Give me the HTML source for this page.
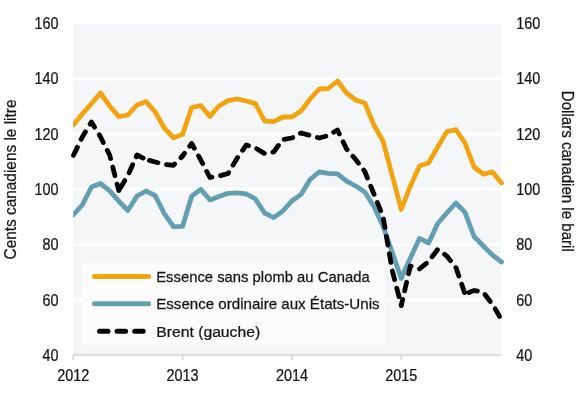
<!DOCTYPE html>
<html><head><meta charset="utf-8"><style>
html,body{margin:0;padding:0;background:#fff;width:580px;height:393px;overflow:hidden}
svg{display:block;will-change:transform}
text{font-family:"Liberation Sans",sans-serif;font-size:16px;fill:#151515;stroke:#151515;stroke-width:0.25px}
</style></head><body>
<svg width="580" height="393" viewBox="0 0 580 393">
<defs><clipPath id="cl"><rect x="73.2" y="0" width="500" height="393"/></clipPath></defs>
<rect x="73" y="24" width="428" height="331" fill="#f5f6f8"/>
<line x1="73" x2="501" y1="299.7" y2="299.7" stroke="#ffffff" stroke-width="3"/><line x1="73" x2="501" y1="244.5" y2="244.5" stroke="#ffffff" stroke-width="3"/><line x1="73" x2="501" y1="189.2" y2="189.2" stroke="#ffffff" stroke-width="3"/><line x1="73" x2="501" y1="134.0" y2="134.0" stroke="#ffffff" stroke-width="3"/><line x1="73" x2="501" y1="78.7" y2="78.7" stroke="#ffffff" stroke-width="3"/>
<line x1="73" x2="501" y1="355" y2="355" stroke="#d4d4d4" stroke-width="1.5"/>
<line x1="73.2" x2="73.2" y1="355" y2="360" stroke="#d4d4d4" stroke-width="1.5"/><text transform="translate(73.20,380.50) scale(0.9,1)" text-anchor="middle" style="font-size:16px">2012</text><line x1="182.6" x2="182.6" y1="355" y2="360" stroke="#d4d4d4" stroke-width="1.5"/><text transform="translate(182.55,380.50) scale(0.9,1)" text-anchor="middle" style="font-size:16px">2013</text><line x1="291.9" x2="291.9" y1="355" y2="360" stroke="#d4d4d4" stroke-width="1.5"/><text transform="translate(291.90,380.50) scale(0.9,1)" text-anchor="middle" style="font-size:16px">2014</text><line x1="401.2" x2="401.2" y1="355" y2="360" stroke="#d4d4d4" stroke-width="1.5"/><text transform="translate(401.25,380.50) scale(0.9,1)" text-anchor="middle" style="font-size:16px">2015</text>
<text transform="translate(58.60,360.90) scale(0.9,1)" text-anchor="end" style="font-size:16px">40</text><text transform="translate(58.60,305.59) scale(0.9,1)" text-anchor="end" style="font-size:16px">60</text><text transform="translate(58.60,250.28) scale(0.9,1)" text-anchor="end" style="font-size:16px">80</text><text transform="translate(58.60,194.97) scale(0.9,1)" text-anchor="end" style="font-size:16px">100</text><text transform="translate(58.60,139.66) scale(0.9,1)" text-anchor="end" style="font-size:16px">120</text><text transform="translate(58.60,84.35) scale(0.9,1)" text-anchor="end" style="font-size:16px">140</text><text transform="translate(58.60,29.04) scale(0.9,1)" text-anchor="end" style="font-size:16px">160</text>
<text transform="translate(516.30,360.90) scale(0.9,1)" text-anchor="start" style="font-size:16px">40</text><text transform="translate(516.30,305.59) scale(0.9,1)" text-anchor="start" style="font-size:16px">60</text><text transform="translate(516.30,250.28) scale(0.9,1)" text-anchor="start" style="font-size:16px">80</text><text transform="translate(516.30,194.97) scale(0.9,1)" text-anchor="start" style="font-size:16px">100</text><text transform="translate(516.30,139.66) scale(0.9,1)" text-anchor="start" style="font-size:16px">120</text><text transform="translate(516.30,84.35) scale(0.9,1)" text-anchor="start" style="font-size:16px">140</text><text transform="translate(516.30,29.04) scale(0.9,1)" text-anchor="start" style="font-size:16px">160</text>
<text transform="translate(16.30,179.50) rotate(-90) scale(0.962,1)" text-anchor="middle" style="font-size:16px">Cents canadiens le litre</text>
<text transform="translate(561.50,171.30) rotate(90) scale(0.943,1)" text-anchor="middle" style="font-size:16px">Dollars canadien le baril</text>
<polyline points="73.2,125.0 82.3,114.0 91.4,103.6 100.5,93.0 109.7,106.0 118.8,116.6 127.9,115.0 137.0,105.0 146.1,101.6 155.2,112.0 164.3,128.0 173.4,137.7 182.6,134.3 191.7,107.5 200.8,105.6 209.9,116.4 219.0,106.0 228.1,100.6 237.2,99.0 246.3,101.0 255.4,103.6 264.6,121.0 273.7,121.6 282.8,117.0 291.9,117.0 301.0,111.0 310.1,99.0 319.2,89.0 328.3,88.5 337.5,81.0 346.6,93.0 355.7,100.0 364.8,103.0 373.9,125.0 383.0,141.0 392.1,175.0 401.2,209.5 410.4,186.0 419.5,166.0 428.6,162.7 437.7,147.0 446.8,131.6 455.9,129.6 465.0,143.0 474.1,167.0 483.3,174.2 492.4,172.0 501.5,183.0" fill="none" stroke="#f2a312" stroke-width="4.8" stroke-linejoin="round" stroke-linecap="round" clip-path="url(#cl)"/>
<polyline points="73.2,215.0 82.3,205.0 91.4,187.0 100.5,183.5 109.7,190.8 118.8,201.2 127.9,210.5 137.0,196.0 146.1,191.0 155.2,195.6 164.3,213.6 173.4,226.6 182.6,226.3 191.7,196.2 200.8,189.3 209.9,199.9 219.0,196.5 228.1,193.3 237.2,192.9 246.3,194.0 255.4,199.0 264.6,213.0 273.7,217.6 282.8,211.0 291.9,201.0 301.0,194.4 310.1,179.5 319.2,172.0 328.3,173.3 337.5,173.8 346.6,181.2 355.7,186.0 364.8,192.0 373.9,206.5 383.0,226.0 392.1,252.0 401.2,278.5 410.4,258.0 419.5,238.4 428.6,243.0 437.7,223.5 446.8,213.0 455.9,203.0 465.0,212.4 474.1,236.5 483.3,246.0 492.4,255.0 501.5,262.0" fill="none" stroke="#629fb3" stroke-width="4.8" stroke-linejoin="round" stroke-linecap="round" clip-path="url(#cl)"/>
<polyline points="73.20,155.90 82.31,137.00 91.42,122.00 100.54,137.00 109.65,155.00 118.76,190.50" fill="none" stroke="#000" stroke-width="4.8" stroke-linejoin="round" stroke-linecap="round" stroke-dasharray="8.8 8.8" stroke-dashoffset="16.90"/><polyline points="118.76,190.50 127.88,175.50 136.99,155.00 146.10,159.50" fill="none" stroke="#000" stroke-width="4.8" stroke-linejoin="round" stroke-linecap="round" stroke-dasharray="8.8 8.8" stroke-dashoffset="14.71"/><polyline points="146.10,159.50 155.21,162.00 164.32,164.50 173.44,165.30 182.55,156.00" fill="none" stroke="#000" stroke-width="4.8" stroke-linejoin="round" stroke-linecap="round" stroke-dasharray="8.8 8.8" stroke-dashoffset="14.16"/><polyline points="182.55,156.00 191.66,143.50 200.77,160.00 209.89,177.50 219.00,176.00 228.11,173.50 237.22,158.00 246.34,145.00 255.45,148.00 264.56,153.50 273.67,152.00 282.79,139.50 291.90,138.00 301.01,133.00 310.12,135.50 319.24,138.00 328.35,135.50 337.46,130.00 346.57,149.00 355.69,159.50 364.80,171.50 373.91,194.00 383.02,216.50 392.14,270.00 401.25,305.50" fill="none" stroke="#000" stroke-width="4.8" stroke-linejoin="round" stroke-linecap="round" stroke-dasharray="8.8 8.8" stroke-dashoffset="5.52"/><polyline points="401.25,305.50 410.36,266.00 419.47,269.00 428.59,261.50 437.70,249.50 446.81,256.00 455.92,267.50 465.04,294.00" fill="none" stroke="#000" stroke-width="4.8" stroke-linejoin="round" stroke-linecap="round" stroke-dasharray="8.8 8.8" stroke-dashoffset="2.59"/><polyline points="465.04,294.00 474.15,290.50 483.26,292.30 492.37,304.30 501.49,319.50" fill="none" stroke="#000" stroke-width="4.8" stroke-linejoin="round" stroke-linecap="round" stroke-dasharray="8.8 8.8" stroke-dashoffset="13.38"/>
<rect x="82" y="263" width="303" height="82" fill="#fcfcfc"/>
<line x1="94.5" x2="148.5" y1="276.4" y2="276.4" stroke="#f2a312" stroke-width="5" stroke-linecap="round"/>
<line x1="94.5" x2="148.5" y1="303.8" y2="303.8" stroke="#629fb3" stroke-width="5" stroke-linecap="round"/>
<line x1="99.5" x2="144" y1="331.2" y2="331.2" stroke="#000000" stroke-width="5" stroke-linecap="round" stroke-dasharray="8.5 9.1"/>
<text transform="translate(156.20,281.80) scale(0.989,1)" text-anchor="start" style="font-size:15px">Essence sans plomb au Canada</text>
<text transform="translate(156.20,309.30) scale(1.008,1)" text-anchor="start" style="font-size:15px">Essence ordinaire aux États-Unis</text>
<text transform="translate(156.20,336.80) scale(1.049,1)" text-anchor="start" style="font-size:15px">Brent (gauche)</text>
</svg>
</body></html>
